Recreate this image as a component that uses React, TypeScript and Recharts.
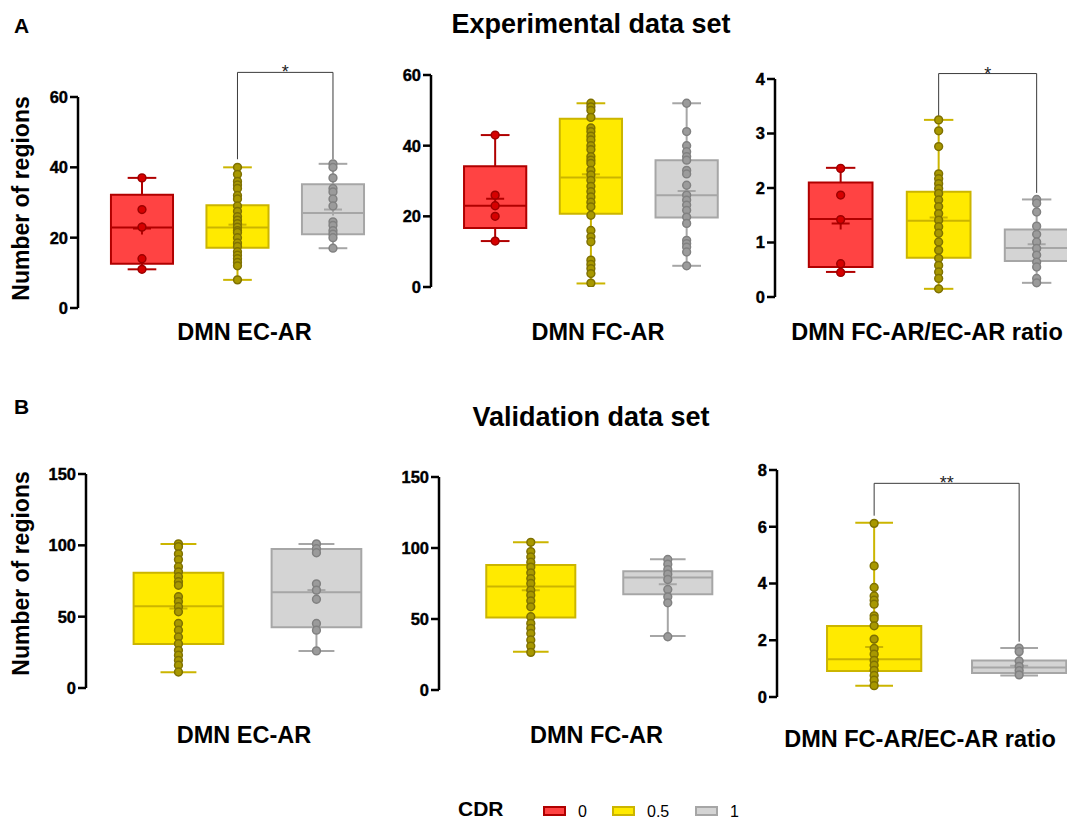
import { ComposedChart, XAxis, YAxis, Scatter, ReferenceArea, ReferenceLine } from 'recharts'

const FONT = '"Liberation Sans", Arial, Helvetica, sans-serif'

type Stats = { min: number; q1: number; med: number; q3: number; max: number; mean: number }
type Bracket = { from: number; to: number; y: number; leftEnd: number; rightEnd: number; text: string }

// CDR groups, in legend order
const CDR_LEVELS = ['0', '0.5', '1']
const CDR_STYLES = [
  { fill: '#ff4343', stroke: '#b00000', dot: '#d60000', dotStroke: '#9e0000' },
  { fill: '#ffea00', stroke: '#cbb500', dot: '#a89800', dotStroke: '#7f7100' },
  { fill: '#d4d4d4', stroke: '#a6a6a6', dot: '#9b9b9b', dotStroke: '#818181' },
]

// ---- A: experimental data set ----
const EXP_EC_TICKS = [0, 20, 40, 60]
const EXP_EC_STATS: Stats[] = [
  { min: 11, q1: 12.6, med: 22.9, q3: 32.2, max: 37, mean: 22.6 },
  { min: 8, q1: 17.1, med: 22.9, q3: 29.2, max: 40, mean: 23.7 },
  { min: 17, q1: 21, med: 27, q3: 35.2, max: 41, mean: 28 },
]
const EXP_EC_POINTS = [
  [37, 28, 23, 14, 11],
  [40, 38, 36, 35, 34, 32, 31, 29, 27.5, 26, 25, 24, 23, 22, 21.5, 20, 18.5, 17.5, 16, 15, 14, 13, 12, 8],
  [41, 40, 37, 34, 33, 31, 29, 24.5, 23.5, 22, 21, 20, 17],
]
const EXP_EC_BRACKET: Bracket = { from: 2, to: 3, y: 67, leftEnd: 42.3, rightEnd: 42.3, text: '*' }

const EXP_FC_TICKS = [0, 20, 40, 60]
const EXP_FC_STATS: Stats[] = [
  { min: 13, q1: 16.7, med: 23, q3: 34.2, max: 43, mean: 25 },
  { min: 1, q1: 20.7, med: 31, q3: 47.6, max: 52, mean: 31.9 },
  { min: 6, q1: 19.7, med: 26, q3: 35.9, max: 52, mean: 27.2 },
]
const EXP_FC_POINTS = [
  [43, 26, 23, 20, 13],
  [52, 51, 50, 48, 45, 44, 42.7, 41.6, 40, 38.9, 36.9, 35.9, 35, 33, 31.7, 30.2, 28.5, 27, 25.5, 24, 22.7, 20.3, 16, 14.2, 12.8, 7.6, 6.4, 5.2, 3.8, 1.1],
  [52, 44, 40, 38.3, 36.9, 35.9, 33, 32, 28.8, 26, 24.6, 23.2, 21.7, 19.8, 18, 13.2, 12.3, 11.3, 9.9, 6],
]

const EXP_RATIO_TICKS = [0, 1, 2, 3, 4]
const EXP_RATIO_STATS: Stats[] = [
  { min: 0.46, q1: 0.55, med: 1.43, q3: 2.1, max: 2.37, mean: 1.35 },
  { min: 0.15, q1: 0.72, med: 1.4, q3: 1.93, max: 3.25, mean: 1.46 },
  { min: 0.26, q1: 0.66, med: 0.9, q3: 1.24, max: 1.79, mean: 0.97 },
]
const EXP_RATIO_POINTS = [
  [2.36, 1.87, 1.42, 0.61, 0.45],
  [3.25, 3.05, 2.76, 2.26, 2.17, 2.08, 1.99, 1.9, 1.78, 1.66, 1.53, 1.41, 1.29, 1.17, 1.01, 0.86, 0.71, 0.58, 0.46, 0.34, 0.15],
  [1.79, 1.72, 1.56, 1.3, 1.15, 1.01, 0.89, 0.77, 0.64, 0.55, 0.34, 0.26],
]
const EXP_RATIO_BRACKET: Bracket = { from: 2, to: 3, y: 4.1, leftEnd: 3.31, rightEnd: 1.91, text: '*' }

// ---- B: validation data set ----
const VAL_EC_TICKS = [0, 50, 100, 150]
const VAL_EC_STATS: Stats[] = [
  { min: 11, q1: 30.9, med: 57.3, q3: 80.7, max: 101, mean: 55.7 },
  { min: 26, q1: 42.6, med: 67.2, q3: 97.4, max: 101, mean: 68.6 },
]
const VAL_EC_POINTS = [
  [101, 99, 94, 90, 85, 81.4, 78, 74.5, 72, 64, 60.6, 57, 53.4, 45.2, 40.5, 35.8, 31, 26.4, 23, 19.4, 16, 11.2],
  [101, 97.6, 94.8, 73, 68.6, 62.2, 45.2, 40.5, 26],
]

const VAL_FC_TICKS = [0, 50, 100, 150]
const VAL_FC_STATS: Stats[] = [
  { min: 27, q1: 51.1, med: 72.9, q3: 88.1, max: 104, mean: 70.3 },
  { min: 38, q1: 67.5, med: 79.2, q3: 83.7, max: 92, mean: 74.5 },
]
const VAL_FC_POINTS = [
  [104, 97.5, 93.7, 90, 86.6, 82.5, 78.5, 75, 70.3, 66.8, 62.8, 58.6, 51.6, 46.9, 43.4, 39.8, 35.2, 30.9, 26.5],
  [91.9, 88.6, 84.8, 81.6, 77.8, 70.8, 65.6, 61.4, 37.5],
]

const VAL_RATIO_TICKS = [0, 2, 4, 6, 8]
const VAL_RATIO_STATS: Stats[] = [
  { min: 0.4, q1: 0.92, med: 1.33, q3: 2.5, max: 6.14, mean: 1.76 },
  { min: 0.76, q1: 0.85, med: 1.04, q3: 1.29, max: 1.73, mean: 1.1 },
]
const VAL_RATIO_POINTS = [
  [6.12, 4.62, 3.86, 3.56, 3.41, 3.27, 2.86, 2.76, 2.51, 2.04, 1.71, 1.51, 1.29, 1.12, 0.94, 0.76, 0.59, 0.4],
  [1.72, 1.6, 1.27, 1.08, 0.93, 0.78],
]
const VAL_RATIO_BRACKET: Bracket = { from: 1, to: 2, y: 7.53, leftEnd: 6.39, rightEnd: 1.95, text: '**' }

type PanelConfig = {
  stats: Stats[]
  points: number[][]
  groups: number[]
  ticks: number[]
  axisX: number
  plotTop: number
  plotH: number
  spacing: number
  cap: number
  bracket?: Bracket
}

const PANELS: PanelConfig[] = [
  { stats: EXP_EC_STATS, points: EXP_EC_POINTS, groups: [0, 1, 2], ticks: EXP_EC_TICKS, axisX: 78, plotTop: 97, plotH: 211, spacing: 95.5, cap: 0.15, bracket: EXP_EC_BRACKET },
  { stats: EXP_FC_STATS, points: EXP_FC_POINTS, groups: [0, 1, 2], ticks: EXP_FC_TICKS, axisX: 431, plotTop: 75, plotH: 212, spacing: 95.75, cap: 0.15 },
  { stats: EXP_RATIO_STATS, points: EXP_RATIO_POINTS, groups: [0, 1, 2], ticks: EXP_RATIO_TICKS, axisX: 775, plotTop: 79, plotH: 218, spacing: 98, cap: 0.15, bracket: EXP_RATIO_BRACKET },
  { stats: VAL_EC_STATS, points: VAL_EC_POINTS, groups: [1, 2], ticks: VAL_EC_TICKS, axisX: 86, plotTop: 474, plotH: 214, spacing: 138, cap: 0.13 },
  { stats: VAL_FC_STATS, points: VAL_FC_POINTS, groups: [1, 2], ticks: VAL_FC_TICKS, axisX: 439, plotTop: 477, plotH: 213, spacing: 137, cap: 0.13 },
  { stats: VAL_RATIO_STATS, points: VAL_RATIO_POINTS, groups: [1, 2], ticks: VAL_RATIO_TICKS, axisX: 777, plotTop: 470, plotH: 227, spacing: 145, cap: 0.13, bracket: VAL_RATIO_BRACKET },
]

const BOX_HALF = 0.325
const Y_W = 60
const M_TOP = 45
const M_BOTTOM = 10

function dotShape(fill: string, stroke: string) {
  return (props: any) => <circle cx={props.cx} cy={props.cy} r={3.9} fill={fill} stroke={stroke} strokeWidth={1.5} />
}

function plusShape(stroke: string) {
  return (props: any) => (
    <g stroke={stroke} strokeWidth={2}>
      <line x1={props.cx - 9} x2={props.cx + 9} y1={props.cy} y2={props.cy} />
      <line x1={props.cx} x2={props.cx} y1={props.cy - 6} y2={props.cy + 6} />
    </g>
  )
}

function YTick(props: any) {
  return (
    <text
      x={props.x}
      y={props.y}
      dy={6}
      textAnchor="end"
      fill="#000"
      stroke="#000"
      strokeWidth={0.4}
      style={{ fontSize: 16.5, fontWeight: 700, fontFamily: FONT }}
    >
      {props.payload.value}
    </text>
  )
}

function BoxPanel({ cfg }: { cfg: PanelConfig }) {
  const n = cfg.stats.length
  const xMin = 0.33
  const xMax = n + 0.67
  const plotW = (xMax - xMin) * cfg.spacing
  const width = Y_W + plotW
  const height = M_TOP + cfg.plotH + M_BOTTOM
  const yMax = cfg.ticks[cfg.ticks.length - 1]

  const boxes = cfg.stats.flatMap((s, i) => {
    const pos = i + 1
    const st = CDR_STYLES[cfg.groups[i]]
    const line = { stroke: st.stroke, strokeWidth: 2, ifOverflow: 'visible' as const }
    return [
      <ReferenceLine key={`wu${i}`} segment={[{ x: pos, y: s.q3 }, { x: pos, y: s.max }]} {...line} />,
      <ReferenceLine key={`wl${i}`} segment={[{ x: pos, y: s.min }, { x: pos, y: s.q1 }]} {...line} />,
      <ReferenceLine key={`cu${i}`} segment={[{ x: pos - cfg.cap, y: s.max }, { x: pos + cfg.cap, y: s.max }]} {...line} />,
      <ReferenceLine key={`cl${i}`} segment={[{ x: pos - cfg.cap, y: s.min }, { x: pos + cfg.cap, y: s.min }]} {...line} />,
      <ReferenceArea key={`b${i}`} x1={pos - BOX_HALF} x2={pos + BOX_HALF} y1={s.q1} y2={s.q3} fill={st.fill} fillOpacity={1} stroke={st.stroke} strokeWidth={2} strokeOpacity={1} ifOverflow="visible" />,
      <ReferenceLine key={`m${i}`} segment={[{ x: pos - BOX_HALF, y: s.med }, { x: pos + BOX_HALF, y: s.med }]} {...line} />,
    ]
  })

  const b = cfg.bracket
  const bracketLines = b
    ? [
        <ReferenceLine key="bl" segment={[{ x: b.from, y: b.leftEnd }, { x: b.from, y: b.y }]} stroke="#3a3a3a" strokeWidth={1} ifOverflow="visible" />,
        <ReferenceLine key="br" segment={[{ x: b.to, y: b.rightEnd }, { x: b.to, y: b.y }]} stroke="#3a3a3a" strokeWidth={1} ifOverflow="visible" />,
        <ReferenceLine
          key="bt"
          segment={[{ x: b.from, y: b.y }, { x: b.to, y: b.y }]}
          stroke="#3a3a3a"
          strokeWidth={1}
          ifOverflow="visible"
          label={{ value: b.text, position: 'top', offset: -6, fill: '#222', fontSize: 18, fontFamily: FONT }}
        />,
      ]
    : []

  return (
    <div style={{ position: 'absolute', left: cfg.axisX - Y_W, top: cfg.plotTop - M_TOP }}>
      <ComposedChart width={width} height={height} margin={{ top: M_TOP, right: 0, bottom: M_BOTTOM, left: 0 }} style={{ overflow: 'visible' }}>
        <XAxis type="number" dataKey="x" domain={[xMin, xMax]} hide allowDataOverflow />
        <YAxis
          type="number"
          dataKey="y"
          domain={[0, yMax]}
          ticks={cfg.ticks}
          interval={0}
          width={Y_W}
          allowDataOverflow
          tickSize={8}
          axisLine={{ stroke: '#000', strokeWidth: 2.5 }}
          tickLine={{ stroke: '#000', strokeWidth: 2.5 }}
          tick={YTick}
        />
        {boxes}
        {bracketLines}
        {cfg.stats.map((s, i) => (
          <Scatter
            key={`mean${i}`}
            data={[{ x: i + 1, y: s.mean }]}
            shape={plusShape(CDR_STYLES[cfg.groups[i]].stroke)}
            isAnimationActive={false}
          />
        ))}
        {cfg.points.map((vals, i) => (
          <Scatter
            key={`pts${i}`}
            data={vals.map((v) => ({ x: i + 1, y: v }))}
            shape={dotShape(CDR_STYLES[cfg.groups[i]].dot, CDR_STYLES[cfg.groups[i]].dotStroke)}
            isAnimationActive={false}
          />
        ))}
      </ComposedChart>
    </div>
  )
}

const X_LABELS = ['DMN EC-AR', 'DMN FC-AR', 'DMN FC-AR/EC-AR ratio']

export default function App() {
  return (
    <div style={{ position: 'absolute', left: 0, top: 0, width: 1067, height: 821, overflow: 'hidden', background: '#fff', fontFamily: FONT }}>
      {PANELS.map((p, i) => (
        <BoxPanel key={i} cfg={p} />
      ))}
      <svg width={1067} height={821} style={{ position: 'absolute', left: 0, top: 0, pointerEvents: 'none' }} fontFamily={FONT} fontWeight={700} fill="#000">
        <text x={14} y={33} fontSize={21}>A</text>
        <text x={591} y={33} fontSize={27} textAnchor="middle">Experimental data set</text>
        <text x={14} y={414} fontSize={21}>B</text>
        <text x={591} y={426} fontSize={27} textAnchor="middle">Validation data set</text>

        <text transform="translate(29,198.5) rotate(-90)" fontSize={23} textAnchor="middle">Number of regions</text>
        <text transform="translate(29,573.5) rotate(-90)" fontSize={23} textAnchor="middle">Number of regions</text>

        <text x={244.5} y={340} fontSize={23.5} textAnchor="middle">{X_LABELS[0]}</text>
        <text x={598} y={340} fontSize={23.5} textAnchor="middle">{X_LABELS[1]}</text>
        <text x={927} y={340} fontSize={23.5} textAnchor="middle">{X_LABELS[2]}</text>
        <text x={244} y={743} fontSize={23.5} textAnchor="middle">{X_LABELS[0]}</text>
        <text x={596.5} y={743} fontSize={23.5} textAnchor="middle">{X_LABELS[1]}</text>
        <text x={920} y={747} fontSize={23.5} textAnchor="middle">{X_LABELS[2]}</text>

        <text x={458} y={816} fontSize={21}>CDR</text>
        {CDR_LEVELS.map((lvl, i) => {
          const x0 = [544, 613, 696][i]
          const st = CDR_STYLES[i]
          return (
            <g key={lvl}>
              <rect x={x0} y={807} width={21} height={8} fill={st.fill} stroke={st.stroke} strokeWidth={2} />
              <text x={x0 + 34} y={817} fontSize={16} fontWeight={400}>{lvl}</text>
            </g>
          )
        })}
      </svg>
    </div>
  )
}
